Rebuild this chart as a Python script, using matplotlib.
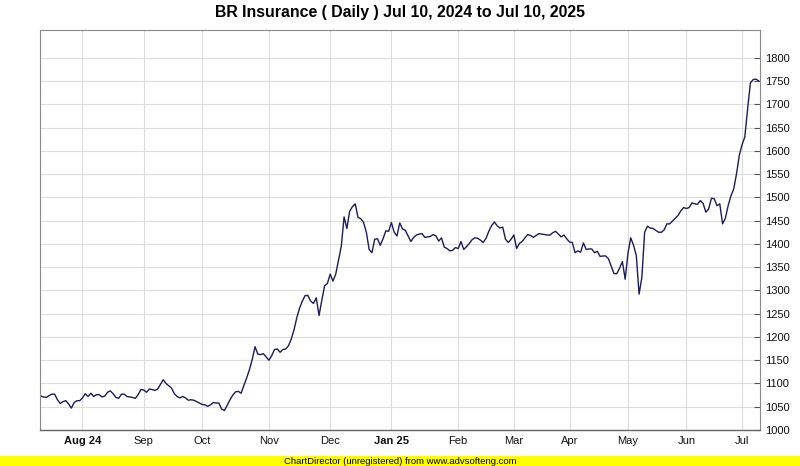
import matplotlib
matplotlib.use("Agg")
import matplotlib.pyplot as plt

title = "BR Insurance ( Daily ) Jul 10, 2024 to Jul 10, 2025"
footer = "ChartDirector (unregistered) from www.advsofteng.com"

# daily closing values (one per trading session)
prices = [
    1073, 1071, 1070, 1074, 1077, 1077, 1065, 1057, 1061, 1063,
    1056, 1047, 1059, 1063, 1063, 1069, 1078, 1072, 1079, 1072,
    1076, 1076, 1071, 1073, 1081, 1084, 1078, 1070, 1068, 1077,
    1077, 1072, 1071, 1070, 1068, 1076, 1087, 1086, 1081, 1088,
    1087, 1085, 1088, 1098, 1108, 1100, 1095, 1090, 1078, 1072,
    1069, 1072, 1069, 1064, 1065, 1064, 1061, 1058, 1055, 1054,
    1051, 1054, 1059, 1058, 1058, 1045, 1042, 1053, 1065, 1075,
    1082, 1083, 1079, 1096, 1112, 1130, 1152, 1179, 1163, 1162,
    1164, 1157, 1150, 1160, 1173, 1174, 1167, 1173, 1174, 1181,
    1195, 1215, 1241, 1262, 1277, 1289, 1289, 1277, 1272, 1284,
    1246, 1279, 1310, 1315, 1335, 1320, 1335, 1365, 1395, 1458,
    1433, 1470, 1480, 1486, 1457, 1454, 1446, 1425, 1388, 1381,
    1410, 1411, 1397, 1411, 1428, 1427, 1446, 1425, 1417, 1445,
    1432, 1429, 1417, 1405, 1414, 1419, 1421, 1422, 1414, 1415,
    1416, 1420, 1417, 1406, 1413, 1393, 1390, 1385, 1386, 1392,
    1390, 1405, 1388, 1394, 1401, 1409, 1413, 1412, 1408, 1403,
    1412, 1427, 1439, 1447, 1439, 1434, 1436, 1410, 1403, 1410,
    1419, 1390, 1401, 1405, 1413, 1420, 1418, 1414, 1418, 1422,
    1421, 1420, 1419, 1419, 1424, 1427, 1421, 1415, 1419, 1411,
    1404, 1403, 1381, 1385, 1382, 1402, 1388, 1389, 1389, 1381,
    1384, 1373, 1374, 1374, 1368, 1352, 1336, 1336, 1348, 1362,
    1324, 1380, 1413, 1397, 1375, 1292, 1328, 1425, 1438, 1434,
    1433, 1429, 1425, 1425, 1430, 1443, 1443, 1449, 1455, 1461,
    1471, 1478, 1476, 1478, 1488, 1486, 1485, 1493, 1487, 1468,
    1475, 1498, 1497, 1482, 1486, 1443, 1455, 1482, 1503, 1518,
    1550, 1590, 1613, 1630, 1690, 1746, 1753, 1754, 1750,
]

# first session of each month (index into prices) and its label
month_idx = [15, 37, 58, 82, 104, 126, 150, 170, 190, 211, 232, 252]
month_labels = ["Aug 24", "Sep", "Oct", "Nov", "Dec", "Jan 25",
                "Feb", "Mar", "Apr", "May", "Jun", "Jul"]
bold_labels = {"Aug 24", "Jan 25"}

y_ticks = list(range(1000, 1801, 50))

plt.rcParams["font.family"] = ["Liberation Sans", "DejaVu Sans"]

fig = plt.figure(figsize=(8.0, 4.66), dpi=100)
fig.patch.set_facecolor("white")
ax = fig.add_axes([0.05, 1 - 430 / 466, 0.90, 400 / 466])

x = list(range(len(prices)))
ax.plot(x, prices, color="#1c1c5a", lw=1.0, solid_joinstyle="round")

ax.set_xlim(-0.27, 258.45)
ax.set_ylim(1000, 1859.6)

ax.set_yticks(y_ticks)
ax.set_yticklabels([str(v) for v in y_ticks])
ax.yaxis.tick_right()
ax.tick_params(axis="y", direction="in", length=4, width=0.8,
               color="#555555", labelsize=8, pad=4, labelcolor="#111111")

ax.set_xticks(month_idx)
ax.set_xticklabels(month_labels)
ax.tick_params(axis="x", length=0, labelsize=8, pad=4, labelcolor="#111111")
for lbl in ax.get_xticklabels():
    if lbl.get_text() in bold_labels:
        lbl.set_fontweight("bold")

ax.grid(True, color="#dcdcdc", lw=0.8)
ax.set_axisbelow(True)
for side in ["left", "top", "right"]:
    ax.spines[side].set_color("#8a8a8a")
    ax.spines[side].set_linewidth(0.8)
ax.spines["bottom"].set_color("#666666")
ax.spines["bottom"].set_linewidth(1.0)

fig.text(0.5, 1 - 12.5 / 466, title, ha="center", va="center",
         fontsize=11.4, fontweight="bold", color="#000000")

# footer band
band = fig.add_axes([0, 0, 1, 10 / 466])
band.set_facecolor("#ffff00")
band.set_xticks([])
band.set_yticks([])
for s in band.spines.values():
    s.set_visible(False)
band.text(0.5, 0.45, footer, ha="center", va="center", fontsize=6.8,
          color="#000000", transform=band.transAxes)

fig.savefig("out.png", dpi=100, facecolor="white")
